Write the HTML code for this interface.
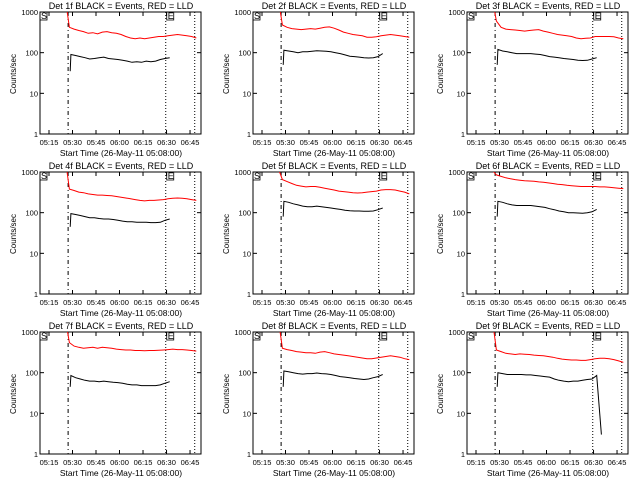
<!DOCTYPE html>
<html><head><meta charset="utf-8"><style>
html,body{margin:0;padding:0;background:#fff;}
svg{display:block;font-family:"Liberation Sans",sans-serif;}
</style></head><body>
<svg id="chart" width="640" height="480" viewBox="0 0 640 480"></svg>
<script>
const detNames = ["1f","2f","3f","4f","5f","6f","7f","8f","9f"];
const xTickMinutes = [15,30,45,60,75,90,105];
const xTickLabels = ["05:15","05:30","05:45","06:00","06:15","06:30","06:45"];
const yTickValues = [1,10,100,1000];
const yTickLabels = ["1","10","100","1000"];
const redTimes = [25.5,28,31,34,37,40,43,46,49,52,55,58,61,64,67,70,73,76,79,82,85,88,91,94,97,100,103,106,109];
const blackTimes = [28.5,29,32,35,38,41,44,47,50,53,56,59,62,65,68,71,74,77,80,83,86,89,92,95];
const markerTimes = [27.2,89.5,108];
const red1 = [2000,420,380,350,330,300,310,290,320,330,310,300,280,250,230,220,230,220,230,240,250,250,260,270,280,270,260,250,230];
const red2 = [2000,480,420,390,380,370,380,390,380,400,420,430,400,360,320,300,280,270,260,240,240,245,260,270,280,270,260,250,240];
const red3 = [2000,600,420,380,370,360,350,340,350,360,370,340,320,300,280,270,260,250,230,220,225,230,250,250,250,250,245,230,220];
const red4 = [2000,380,350,320,310,290,280,270,270,265,260,250,240,230,220,210,200,195,200,200,205,210,220,225,230,225,220,210,200];
const red5 = [1200,650,580,520,470,450,430,440,440,420,400,380,360,340,330,320,310,305,310,320,330,340,360,370,370,360,340,320,290];
const red6 = [1100,850,780,720,680,650,630,610,600,590,570,560,540,520,500,490,470,460,450,440,440,440,440,430,430,420,410,400,390];
const red7 = [2000,550,450,420,400,410,420,400,420,410,400,380,370,360,360,350,350,345,350,350,355,360,370,380,370,370,360,350,340];
const red8 = [2000,400,370,350,330,320,310,310,300,320,330,310,290,280,270,260,250,240,230,220,220,230,240,250,260,250,240,220,210];
const red9 = [2000,360,330,300,290,280,290,285,280,270,265,260,250,240,225,215,210,205,205,200,200,210,220,225,225,220,210,195,180];
const black1 = [35,90,85,80,75,70,72,75,78,72,70,68,65,62,58,60,58,62,60,62,68,72,75,null];
const black2 = [50,115,110,105,100,105,105,108,112,110,108,105,100,95,88,82,80,78,75,74,75,80,95,null];
const black3 = [50,120,110,105,100,95,95,95,95,92,90,85,80,78,75,72,70,68,65,64,65,70,75,null];
const black4 = [45,95,90,85,80,75,75,72,70,70,68,65,62,60,60,58,58,58,57,57,58,65,70,null];
const black5 = [80,190,180,165,155,145,140,140,145,140,135,130,125,120,115,112,110,110,108,108,110,118,130,null];
const black6 = [80,190,180,165,155,150,150,150,150,145,140,135,125,118,110,105,100,100,98,97,100,105,120,null];
const black7 = [45,85,75,70,65,62,62,60,62,60,58,57,55,52,50,50,48,48,48,48,50,55,60,null];
const black8 = [45,110,105,100,95,92,95,95,98,95,93,90,85,80,78,75,72,70,68,70,75,80,90,null];
const black9 = [45,100,95,90,90,90,90,88,88,85,83,80,78,70,65,62,60,62,62,65,68,70,85,3];
const redSeries = [red1,red2,red3,red4,red5,red6,red7,red8,red9];
const blackSeries = [black1,black2,black3,black4,black5,black6,black7,black8,black9];

const NS = "http://www.w3.org/2000/svg";
const svg = document.getElementById("chart");
const BX0 = 40, BX1 = 201, BY0 = 12, BY1 = 134;
const T0 = 9.26, T1 = 112;
function xs(t){ return BX0 + (t - T0) / (T1 - T0) * (BX1 - BX0); }
function ys(v){ const l = Math.log10(Math.max(v, 0.5)); return BY1 - l / 3 * (BY1 - BY0); }
function mk(tag, attrs, parent){
  const e = document.createElementNS(NS, tag);
  for (const k in attrs) e.setAttribute(k, attrs[k]);
  parent.appendChild(e);
  return e;
}
const clip = mk("clipPath", {id: "plotclip"}, svg);
mk("rect", {x: BX0, y: BY0, width: BX1 - BX0, height: BY1 - BY0}, clip);

for (let p = 0; p < 9; p++) {
  const ox = [0, 213, 427][p % 3], oy = [0, 160, 320][Math.floor(p / 3)];
  const g = mk("g", {transform: `translate(${ox},${oy})`}, svg);
  
  
  const title = mk("text", {x: 121, y: 9, "font-size": 9, "text-anchor": "middle"}, g);
  title.textContent = "Det " + detNames[p] + " BLACK = Events, RED = LLD";
  
  
  const yl = mk("text", {x: 0, y: 0, "font-size": 8, "text-anchor": "middle", transform: "translate(16,74) rotate(-90)"}, g);
  yl.textContent = "Counts/sec";
  
  
  const xl = mk("text", {x: 121, y: 156, "font-size": 8.5, "text-anchor": "middle"}, g);
  xl.textContent = "Start Time (26-May-11 05:08:00)";
  
  
  const box = mk("rect", {x: BX0, y: BY0, width: BX1 - BX0, height: BY1 - BY0, fill: "none", stroke: "#000", "stroke-width": 1}, g);
  
  
  yTickValues.forEach((v, i) => {
    const y = ys(v);
    mk("line", {x1: BX0, x2: BX0 + 4, y1: y, y2: y, stroke: "#000"}, g);
    mk("line", {x1: BX1 - 4, x2: BX1, y1: y, y2: y, stroke: "#000"}, g);
    const t = mk("text", {x: BX0 - 2, y: y + 3, "font-size": 7.5, "text-anchor": "end"}, g);
    t.textContent = yTickLabels[i];
    
    
  });
  xTickMinutes.forEach((m, i) => {
    const x = xs(m);
    mk("line", {x1: x, x2: x, y1: BY1, y2: BY1 - 4, stroke: "#000"}, g);
    mk("line", {x1: x, x2: x, y1: BY0, y2: BY0 + 4, stroke: "#000"}, g);
    const t = mk("text", {x: x, y: 145, "font-size": 7.5, "text-anchor": "middle"}, g);
    t.textContent = xTickLabels[i];
    
    
  });
  const dd = mk("line", {x1: xs(markerTimes[0]), x2: xs(markerTimes[0]), y1: BY0, y2: BY1, stroke: "#000", "stroke-dasharray": "4,3,1,3"}, g);
  
  
  for (let k = 1; k < 3; k++) {
    const dl = mk("line", {x1: xs(markerTimes[k]), x2: xs(markerTimes[k]), y1: BY0, y2: BY1, stroke: "#000", "stroke-dasharray": "1,2"}, g);
    
    
  }
  mk("rect", {x: BX0, y: BY0, width: 7, height: 8, fill: "none", stroke: "#000", "stroke-width": 0.8}, g);
  const sT = mk("text", {x: BX0 + 1, y: BY0 + 7, "font-size": 9}, g);
  sT.textContent = "S";
  
  
  mk("rect", {x: xs(markerTimes[1]) + 1, y: BY0, width: 7, height: 8, fill: "none", stroke: "#000", "stroke-width": 0.8}, g);
  const eT = mk("text", {x: xs(markerTimes[1]) + 2, y: BY0 + 7, "font-size": 9}, g);
  eT.textContent = "E";
  
  
  const cg = mk("g", {"clip-path": "url(#plotclip)"}, g);
  function path(times, vals, color, name) {
    let d = "", started = false;
    for (let i = 0; i < times.length; i++) {
      if (vals[i] === null) continue;
      const x = xs(times[i]).toFixed(1), y = ys(vals[i]).toFixed(1);
      d += (started ? " L" : "M") + x + " " + y;
      started = true;
    }
    const e = mk("path", {d: d, fill: "none", stroke: color, "stroke-width": 1}, cg);
    
    
  }
  path(redTimes, redSeries[p], "#f00", "lld-rate-series");
  path(blackTimes, blackSeries[p], "#000", "event-rate-series");
}
</script>
</body></html>
